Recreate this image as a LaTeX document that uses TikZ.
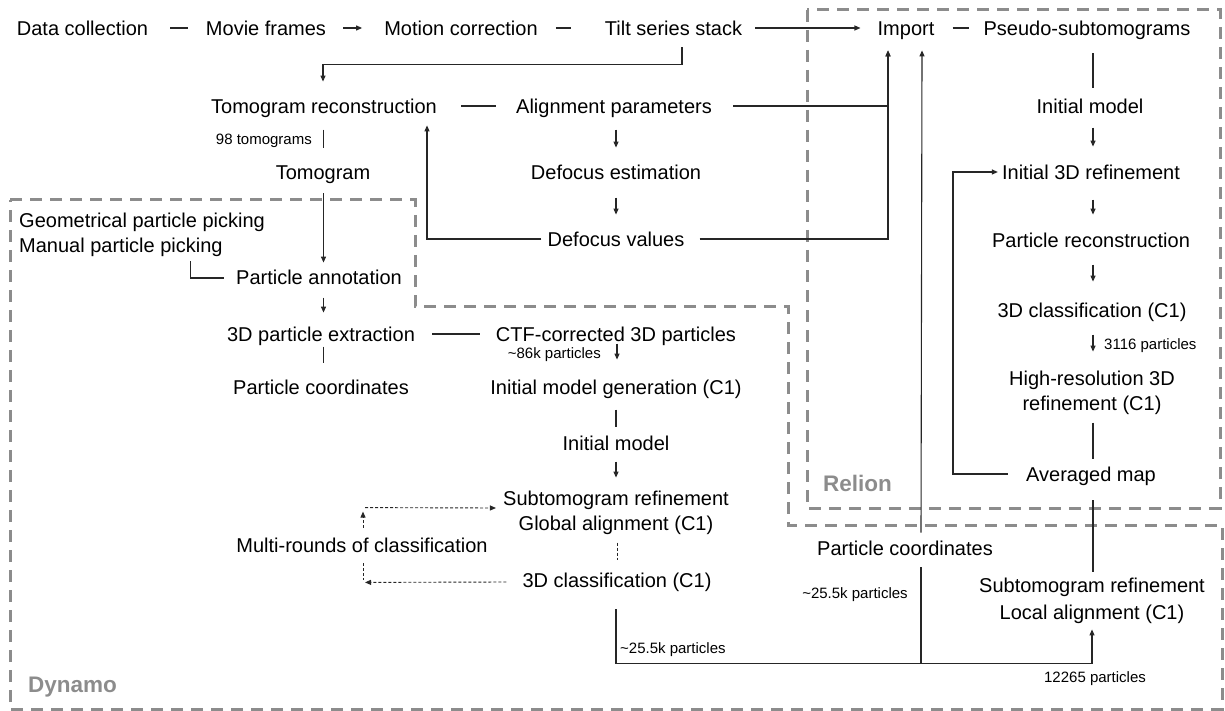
\documentclass[tikz,border=0pt]{standalone}
\usepackage{fontspec}
\setmainfont{Liberation Sans}
\usetikzlibrary{arrows.meta}
\definecolor{boxgray}{HTML}{8C8C8C}
\definecolor{linec}{HTML}{262626}
\tikzset{
  txt/.style={inner sep=0pt, text height=14.4pt, text depth=0pt, font=\fontsize{20}{25}\selectfont},
  sm/.style={inner sep=0pt, text height=10.8pt, text depth=0pt, font=\fontsize{15}{18}\selectfont},
  lbl/.style={inner sep=0pt, text height=16pt, text depth=0pt, font=\fontsize{22.5}{26}\selectfont\bfseries, text=boxgray},
  ln/.style={draw=linec, line width=1.1pt},
  arr/.style={ln, -{Triangle[length=6pt,width=5pt]}},
  dln/.style={draw=linec, line width=0.9pt, dash pattern=on 3pt off 2pt},
  darr/.style={dln, -{Triangle[length=6pt,width=5pt]}},
  box/.style={draw=boxgray, line width=3pt, dash pattern=on 12pt off 8pt},
}
\begin{document}
\begin{tikzpicture}[x=1pt,y=-1pt]
\useasboundingbox (0,0) rectangle (1225,711);
% dashed boxes
\draw[box] (807,10) rectangle (1220,508);
\draw[box] (10,200) -- (415,200) -- (415,306) -- (788,306) -- (788,525) -- (1222,525) -- (1222,709) -- (10,709) -- cycle;
\node[lbl, anchor=west] (relion) at (823,483) {Relion};
\node[lbl, anchor=west] (dynamo) at (28,684) {Dynamo};
% row 1
\node[txt] (dc) at (82.5,28) {Data collection};
\node[txt] (mf) at (266,28) {Movie frames};
\node[txt] (mc) at (461,28) {Motion correction};
\node[txt] (ts) at (673.5,28) {Tilt series stack};
\node[txt] (imp) at (906,28) {Import};
\node[txt] (ps) at (1087,28) {Pseudo-subtomograms};
% middle
\node[txt] (tr) at (324,106) {Tomogram reconstruction};
\node[txt] (ap) at (614,106) {Alignment parameters};
\node[txt] (de) at (616,172) {Defocus estimation};
\node[txt] (dv) at (616,239) {Defocus values};
\node[sm, anchor=east] (n98) at (312,139) {98 tomograms};
\node[txt] (tomo) at (323,172) {Tomogram};
\node[txt, anchor=west] (gpp) at (19,220) {Geometrical particle picking};
\node[txt, anchor=west] (mpp) at (19,245) {Manual particle picking};
\node[txt] (pa) at (319,277) {Particle annotation};
\node[txt] (pe) at (321,334) {3D particle extraction};
\node[txt] (ctf) at (616,334) {CTF-corrected 3D particles};
\node[sm, anchor=east] (n86) at (601,353) {\textasciitilde86k particles};
\node[txt] (pc1) at (321,387) {Particle coordinates};
\node[txt] (img) at (616,387) {Initial model generation (C1)};
\node[txt] (im2) at (616,443) {Initial model};
\node[txt, align=center] (sr) at (616,523) {Subtomogram refinement\\Global alignment (C1)};
\node[txt] (mr) at (362,545) {Multi-rounds of classification};
\node[txt] (cls) at (617,580) {3D classification (C1)};
\node[sm, anchor=west] (n255a) at (620,648) {\textasciitilde25.5k particles};
\node[txt] (pc2) at (905,548) {Particle coordinates};
\node[sm] (n255b) at (855,593) {\textasciitilde25.5k particles};
\node[txt, align=center, font=\fontsize{20}{27}\selectfont] (slr) at (1092,612) {Subtomogram refinement\\Local alignment (C1)};
\node[sm] (n12265) at (1095,677) {12265 particles};
% relion column
\node[txt] (im1) at (1090,106) {Initial model};
\node[txt] (i3d) at (1091,172) {Initial 3D refinement};
\node[txt] (prc) at (1091,240) {Particle reconstruction};
\node[txt] (c3d) at (1092,310) {3D classification (C1)};
\node[sm, anchor=west] (n3116) at (1104,344) {3116 particles};
\node[txt, align=center] (hr) at (1092,403) {High-resolution 3D\\refinement (C1)};
\node[txt] (am) at (1091,474) {Averaged map};
% connectors row 1
\draw[ln] ([xshift=22pt]dc.east) -- ([xshift=-18pt]mf.west);
\draw[arr] ([xshift=17pt]mf.east) -- ([xshift=-22pt]mc.west);
\draw[ln] ([xshift=18pt]mc.east) -- ([xshift=-34pt]ts.west);
\draw[arr] ([xshift=13pt]ts.east) -- ([xshift=-17pt]imp.west);
\draw[ln] ([xshift=18pt]imp.east) -- ([xshift=-14pt]ps.west);
\draw[arr] ([xshift=8.5pt,yshift=-12pt]ts.south) -- ++(0,17) -| ([xshift=-1pt,yshift=17pt]tr.north);
% middle connectors
\draw[ln] ([xshift=24pt]tr.east) -- ([xshift=-20pt]ap.west);
\draw[arr] ([xshift=21pt]ap.east) -| ([xshift=-18pt,yshift=-15pt]imp.south);
\draw[arr] ([xshift=15pt]dv.east) -| ([xshift=-18pt,yshift=-15pt]imp.south);
\draw[arr] ([yshift=35pt]de.north) -- ([yshift=17pt]de.north);
\draw[arr] ([yshift=34pt]dv.north) -- ([yshift=17pt]dv.north);
\draw[arr] ([xshift=-6pt]dv.west) -| ([xshift=103pt,yshift=-12pt]tr.south);
\draw[ln] ([xshift=0.5pt,yshift=35pt]tomo.north) -- ([xshift=0.5pt,yshift=17pt]tomo.north);
\draw[arr] ([xshift=0.5pt,yshift=-14pt]tomo.south) -- ([xshift=4.5pt,yshift=7pt]pa.north);
\draw[ln] ([xshift=171.6pt,yshift=-9pt]mpp.south west) |- ([xshift=-11.6pt,yshift=-1pt]pa.west);
\draw[arr] ([xshift=2.5pt,yshift=29pt]pe.north) -- ([xshift=2.5pt,yshift=14pt]pe.north);
\draw[ln] ([xshift=17pt]pe.east) -- ([xshift=-16pt]ctf.west);
\draw[arr] ([xshift=1pt,yshift=36pt]img.north) -- ([xshift=1pt,yshift=20pt]img.north);
\draw[ln] ([xshift=2.5pt,yshift=33pt]pc1.north) -- ([xshift=2.5pt,yshift=17pt]pc1.north);
\draw[ln] ([yshift=26pt]im2.north) -- ([yshift=9pt]im2.north);
\draw[arr] ([yshift=54pt]sr.north) -- ([yshift=38pt]sr.north);
\draw[dln] ([yshift=30pt]cls.north) -- ([yshift=13pt]cls.north);
% multi-rounds loop
\draw[darr] ([xshift=-16pt,yshift=-2pt]cls.west) -- ([xshift=3pt,yshift=-30pt]mr.south);
\draw[dln] ([xshift=1pt,yshift=-11pt]mr.south) -- ([xshift=1pt,yshift=-28pt]mr.south);
\draw[darr] ([xshift=1pt,yshift=10pt]mr.north) -- ([xshift=1pt,yshift=26pt]mr.north);
\draw[darr] ([xshift=3pt,yshift=30pt]mr.north) -- ([xshift=-7pt,yshift=15pt]sr.west);
% bottom connectors
\draw[arr] ([xshift=-1pt,yshift=-22pt]cls.south) -- ++(0,54) -| ([yshift=-10pt]slr.south);
\draw[ln] ([xshift=16pt,yshift=-108pt]pc2.south) -- ([xshift=16pt,yshift=-12pt]pc2.south);
\draw[arr] ([xshift=16pt,yshift=8pt]pc2.north) -- ([xshift=16pt,yshift=-15pt]imp.south);
% relion column connectors
\draw[ln] ([xshift=6pt,yshift=-18pt]ps.south) -- ([xshift=3pt,yshift=11pt]im1.north);
\draw[arr] ([xshift=2pt,yshift=37pt]i3d.north) -- ([xshift=2pt,yshift=18pt]i3d.north);
\draw[arr] ([xshift=2pt,yshift=33pt]prc.north) -- ([xshift=2pt,yshift=18pt]prc.north);
\draw[arr] ([xshift=1pt,yshift=38pt]c3d.north) -- ([xshift=1pt,yshift=21pt]c3d.north);
\draw[arr] ([xshift=1pt,yshift=61pt]hr.north) -- ([xshift=1pt,yshift=44pt]hr.north);
\draw[ln] ([xshift=2pt,yshift=44pt]am.north) -- ([xshift=2pt,yshift=8pt]am.north);
\draw[arr] ([xshift=-18pt]am.west) -- ([xshift=-73pt]am.west) |- ([xshift=-4pt]i3d.west);
\draw[ln] ([xshift=2pt,yshift=-19pt]am.south) -- ([xshift=2pt,yshift=-91pt]am.south);
\end{tikzpicture}
\end{document}
